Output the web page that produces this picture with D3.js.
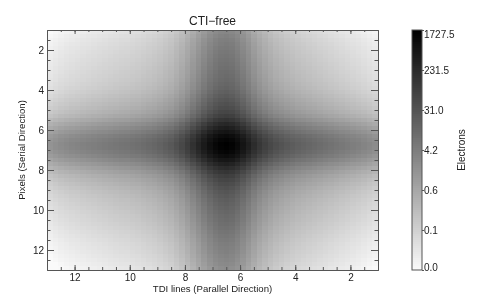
<!DOCTYPE html>
<html><head><meta charset="utf-8">
<script src="https://cdn.jsdelivr.net/npm/d3@7/dist/d3.min.js"></script>
<style>html,body{margin:0;padding:0;background:#fff}svg{display:block;filter:blur(0.35px)}text{font-family:"Liberation Sans",Arial,sans-serif;fill:#222}</style>
</head><body><svg id="c" width="480" height="300"></svg>
<script>
// log10(electrons) across TDI lines on the peak row (left to right: 13 -> 1)
const lineLogElectrons = [0.160,0.250,0.330,0.390,0.444,0.485,0.526,0.567,0.608,0.649,0.690,0.731,0.772,0.813,0.834,0.875,0.916,0.978,1.039,1.101,1.183,1.286,1.388,1.553,1.738,1.963,2.210,2.457,2.703,2.929,3.093,3.196,3.237,3.175,3.032,2.826,2.580,2.313,2.087,1.902,1.738,1.594,1.491,1.388,1.306,1.224,1.162,1.101,1.039,0.978,0.916,0.854,0.793,0.731,0.670,0.608,0.550,0.480,0.400,0.320];
// log10(electrons) across pixels on the peak column (top to bottom: 1 -> 13)
const pixelLogElectrons = [0.440,0.530,0.600,0.660,0.711,0.752,0.793,0.834,0.875,0.916,0.957,0.998,1.039,1.101,1.162,1.245,1.347,1.450,1.553,1.655,1.779,1.943,2.169,2.416,2.621,2.826,3.032,3.155,3.237,3.216,3.134,2.991,2.785,2.559,2.333,2.128,1.943,1.799,1.676,1.553,1.450,1.368,1.286,1.224,1.162,1.101,1.039,0.998,0.937,0.875,0.813,0.752,0.690,0.628,0.587,0.546,0.490,0.430,0.370,0.300];
const peakLog = 3.237;
const wingCoupling = 0.073;
const binSize = 0.2;
const xMajor = [12,10,8,6,4,2];
const yMajor = [2,4,6,8,10,12];
const halfSteps = [1.5,2,2.5,3,3.5,4,4.5,5,5.5,6,6.5,7,7.5,8,8.5,9,9.5,10,10.5,11,11.5,12,12.5];
const barLevels = [1727.5,231.5,31.0,4.16,0.557,0.0747,0.01];
const titleText = "CTI\u2212free", xTitle = "TDI lines (Parallel Direction)", yTitle = "Pixels (Serial Direction)", barTitle = "Electrons";

const L=47,R=378,T=30,B=270,BL=412,BR=422;
const svg=d3.select("#c");
const x=d3.scaleLinear().domain([13,1]).range([L,R]);
const y=d3.scaleLinear().domain([1,13]).range([T,B]);
const gray=d3.scaleLog().domain([0.01,1727.5]).range([250,0]).clamp(true);
const col=v=>{const g=Math.round(gray(v));return `rgb(${g},${g},${g})`;};

const cells=[];
lineLogElectrons.forEach((a,i)=>pixelLogElectrons.forEach((b,j)=>{
  const da=peakLog-a, db=peakLog-b;
  cells.push({line:13-i*binSize,pixel:1+j*binSize,v:Math.pow(10,peakLog-(da+db-wingCoupling*da*db))});
}));
svg.append("g").attr("shape-rendering","crispEdges").selectAll("rect").data(cells).join("rect")
  .attr("x",d=>Math.round(x(d.line))).attr("y",d=>Math.round(y(d.pixel)))
  .attr("width",d=>Math.round(x(d.line-binSize))-Math.round(x(d.line)))
  .attr("height",d=>Math.round(y(d.pixel+binSize))-Math.round(y(d.pixel)))
  .attr("fill",d=>col(d.v));

const stroke="#555";
function ax(gen,tx,ty,vals,len,labels){
  const g=svg.append("g").attr("transform",`translate(${tx},${ty})`).call(gen.tickValues(vals).tickSize(len).tickSizeOuter(0).tickFormat(labels?d3.format("d"):""));
  g.selectAll("line,path").attr("stroke",stroke).attr("stroke-width",1);
  g.selectAll("text").attr("font-size",10).attr("fill","#222").style("font-family",'"Liberation Sans"');
  return g;
}
ax(d3.axisBottom(x),0,B,halfSteps,-3,false);
ax(d3.axisBottom(x).tickPadding(4),0,B,xMajor,-5,true);
ax(d3.axisTop(x),0,T,halfSteps,-2,false);
ax(d3.axisTop(x),0,T,xMajor,-4,false);
ax(d3.axisLeft(y),L,0,halfSteps,-3.5,false);
ax(d3.axisLeft(y).tickPadding(3),L,0,yMajor,-7,true);
ax(d3.axisRight(y),R,0,halfSteps,-3.5,false);
ax(d3.axisRight(y),R,0,yMajor,-7,false);

// colour bar
const by=d3.scaleLog().domain([0.01,1727.5]).range([B,T]);
const barStops=d3.range(T,B,2).map(p=>by.invert(p+1));
svg.append("g").attr("shape-rendering","crispEdges").selectAll("rect").data(barStops).join("rect")
  .attr("x",BL).attr("width",BR-BL).attr("y",d=>by(d)-1).attr("height",2).attr("fill",d=>col(d));
svg.append("rect").attr("x",BL).attr("y",T).attr("width",BR-BL).attr("height",B-T).attr("fill","none").attr("stroke",stroke);
const bg=svg.append("g").attr("transform",`translate(${BR},0)`).call(d3.axisRight(by).tickValues(barLevels).tickSize(2).tickPadding(0).tickFormat(d3.format(".1f")));
bg.select("path").remove();
bg.selectAll("line").attr("stroke",stroke);
bg.selectAll("text").attr("font-size",10).attr("fill","#222").style("font-family",'"Liberation Sans"')
  .attr("dy",(d,i)=>i===0?"0.72em":i===barLevels.length-1?"0.02em":"0.32em");

svg.append("text").attr("x",(L+R)/2).attr("y",25).attr("text-anchor","middle").attr("font-size",12).text(titleText);
svg.append("text").attr("x",(L+R)/2).attr("y",292).attr("text-anchor","middle").attr("font-size",9.6).text(xTitle);
svg.append("text").attr("transform","translate(25,150) rotate(-90)").attr("text-anchor","middle").attr("font-size",9.6).text(yTitle);
svg.append("text").attr("transform","translate(465,150) rotate(-90)").attr("text-anchor","middle").attr("font-size",10).text(barTitle);
</script></body></html>
